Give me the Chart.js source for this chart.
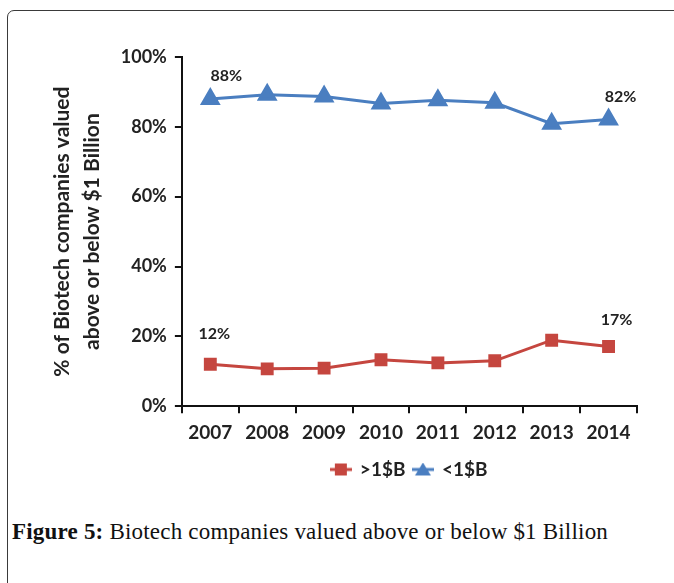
<!DOCTYPE html>
<html>
<head>
<meta charset="utf-8">
<script src="https://cdn.jsdelivr.net/npm/chart.js@4.4.1/dist/chart.umd.min.js"></script>
<style>
  html, body { margin: 0; padding: 0; background: #fff; }
  body { width: 674px; height: 583px; position: relative; overflow: hidden; }
  .frame { position: absolute; left: 7px; top: 10px; width: 700px; height: 600px;
           border: 1.5px solid #3a3a3a; border-radius: 7px; box-sizing: border-box; }
  #wrap { position: absolute; left: 0; top: 0; width: 674px; height: 495px; }
  .caption { position: absolute; left: 12px; top: 519px; font-family: "Liberation Serif", "DejaVu Serif", serif;
             font-size: 23px; letter-spacing: 0.2px; color: #111; }
  .caption b { font-weight: bold; }
</style>
</head>
<body>
<div class="frame"></div>
<div id="wrap"><canvas id="chart"></canvas></div>
<div class="caption"><b>Figure 5:</b> Biotech companies valued above or below $1 Billion</div>
<script>
const years = ['2007', '2008', '2009', '2010', '2011', '2012', '2013', '2014'];
const above = [12, 10.7, 10.9, 13.3, 12.4, 13.0, 18.9, 17.1];   // >1$B
const below = [88, 89.2, 88.7, 86.7, 87.6, 86.9, 80.9, 82.1];   // <1$B
const yTicks = [0, 20, 40, 60, 80, 100];

const red = '#C5463F';
const blue = '#4A7EC0';
const font = 'Lato, "Open Sans", sans-serif';

// little line+marker swatch for the legend
function swatch(color, shape) {
    const c = document.createElement('canvas');
    c.width = 22; c.height = 14;
    const g = c.getContext('2d');
    g.strokeStyle = color; g.fillStyle = color; g.lineWidth = 3;
    g.beginPath(); g.moveTo(0, 7); g.lineTo(22, 7); g.stroke();
    g.beginPath();
    if (shape === 'rect') {
        g.rect(5, 1, 12, 12);
    } else {
        g.moveTo(11, 0); g.lineTo(19, 13); g.lineTo(3, 13); g.closePath();
    }
    g.fill();
    return c;
}

// end labels: first and last point of each series
const endLabels = {
    id: 'endLabels',
    afterDatasetsDraw(chart) {
        const ctx = chart.ctx;
        ctx.save();
        ctx.font = 'bold 16px ' + font;
        ctx.fillStyle = '#222';
        ctx.textAlign = 'center';
        ctx.textBaseline = 'middle';
        chart.data.datasets.forEach((ds, i) => {
            const pts = chart.getDatasetMeta(i).data;
            const first = pts[0], last = pts[pts.length - 1];
            const v0 = ds.data[0], v1 = ds.data[ds.data.length - 1];
            ctx.fillText(Math.round(v0) + '%', first.x + (i === 0 ? 4 : 16), first.y - (i === 0 ? 30 : 23));
            ctx.fillText(Math.round(v1) + '%', last.x + (i === 0 ? 8 : 12), last.y - (i === 0 ? 27 : 23));
        });
        ctx.restore();
    }
};

new Chart(document.getElementById('chart'), {
    type: 'line',
    data: {
        labels: years,
        datasets: [{
            label: '>1$B',
            data: above,
            borderColor: red,
            backgroundColor: red,
            borderWidth: 3,
            pointStyle: 'rect',
            pointRadius: 7,
            pointHoverRadius: 7,
            tension: 0
        }, {
            label: '<1$B',
            data: below,
            borderColor: blue,
            backgroundColor: blue,
            borderWidth: 3,
            pointStyle: 'triangle',
            pointRadius: 9,
            pointHoverRadius: 9,
            tension: 0
        }]
    },
    options: {
        responsive: true,
        maintainAspectRatio: false,
        animation: false,
        layout: { padding: { left: 48, right: 37, top: 57, bottom: 6 } },
        plugins: {
            tooltip: { enabled: false },
            legend: {
                position: 'bottom',
                fullSize: false,
                labels: {
                    usePointStyle: true,
                    boxHeight: 14,
                    padding: 8,
                    color: '#222',
                    font: { family: font, size: 19, weight: 'bold' },
                    generateLabels(chart) {
                        return chart.data.datasets.map((ds, i) => ({
                            text: ds.label,
                            pointStyle: swatch(ds.borderColor, i === 0 ? 'rect' : 'triangle'),
                            fillStyle: ds.borderColor,
                            strokeStyle: ds.borderColor,
                            lineWidth: 0,
                            fontColor: '#222',
                            datasetIndex: i
                        }));
                    }
                }
            }
        },
        scales: {
            x: {
                offset: true,
                grid: { display: true, drawOnChartArea: false, offset: true, tickLength: 7, color: '#111', lineWidth: 2 },
                border: { color: '#111', width: 2 },
                ticks: { color: '#222', padding: 8, font: { family: font, size: 19, weight: 'bold' }, maxRotation: 0 }
            },
            y: {
                min: 0,
                max: 100,
                afterBuildTicks(axis) { axis.ticks = yTicks.map(v => ({ value: v })); },
                grid: { display: true, drawOnChartArea: false, tickLength: 7, color: '#111', lineWidth: 2 },
                border: { color: '#111', width: 2 },
                ticks: { color: '#222', padding: 8, font: { family: font, size: 18, weight: 'bold' },
                         callback: v => v + '%' },
                title: {
                    display: true,
                    text: ['% of Biotech companies valued', 'above or below $1 Billion'],
                    color: '#222',
                    font: { family: font, size: 21, weight: 'bold', lineHeight: 1.4 },
                    padding: { top: 0, bottom: 6 }
                }
            }
        }
    },
    plugins: [endLabels]
});
</script>
</body>
</html>
